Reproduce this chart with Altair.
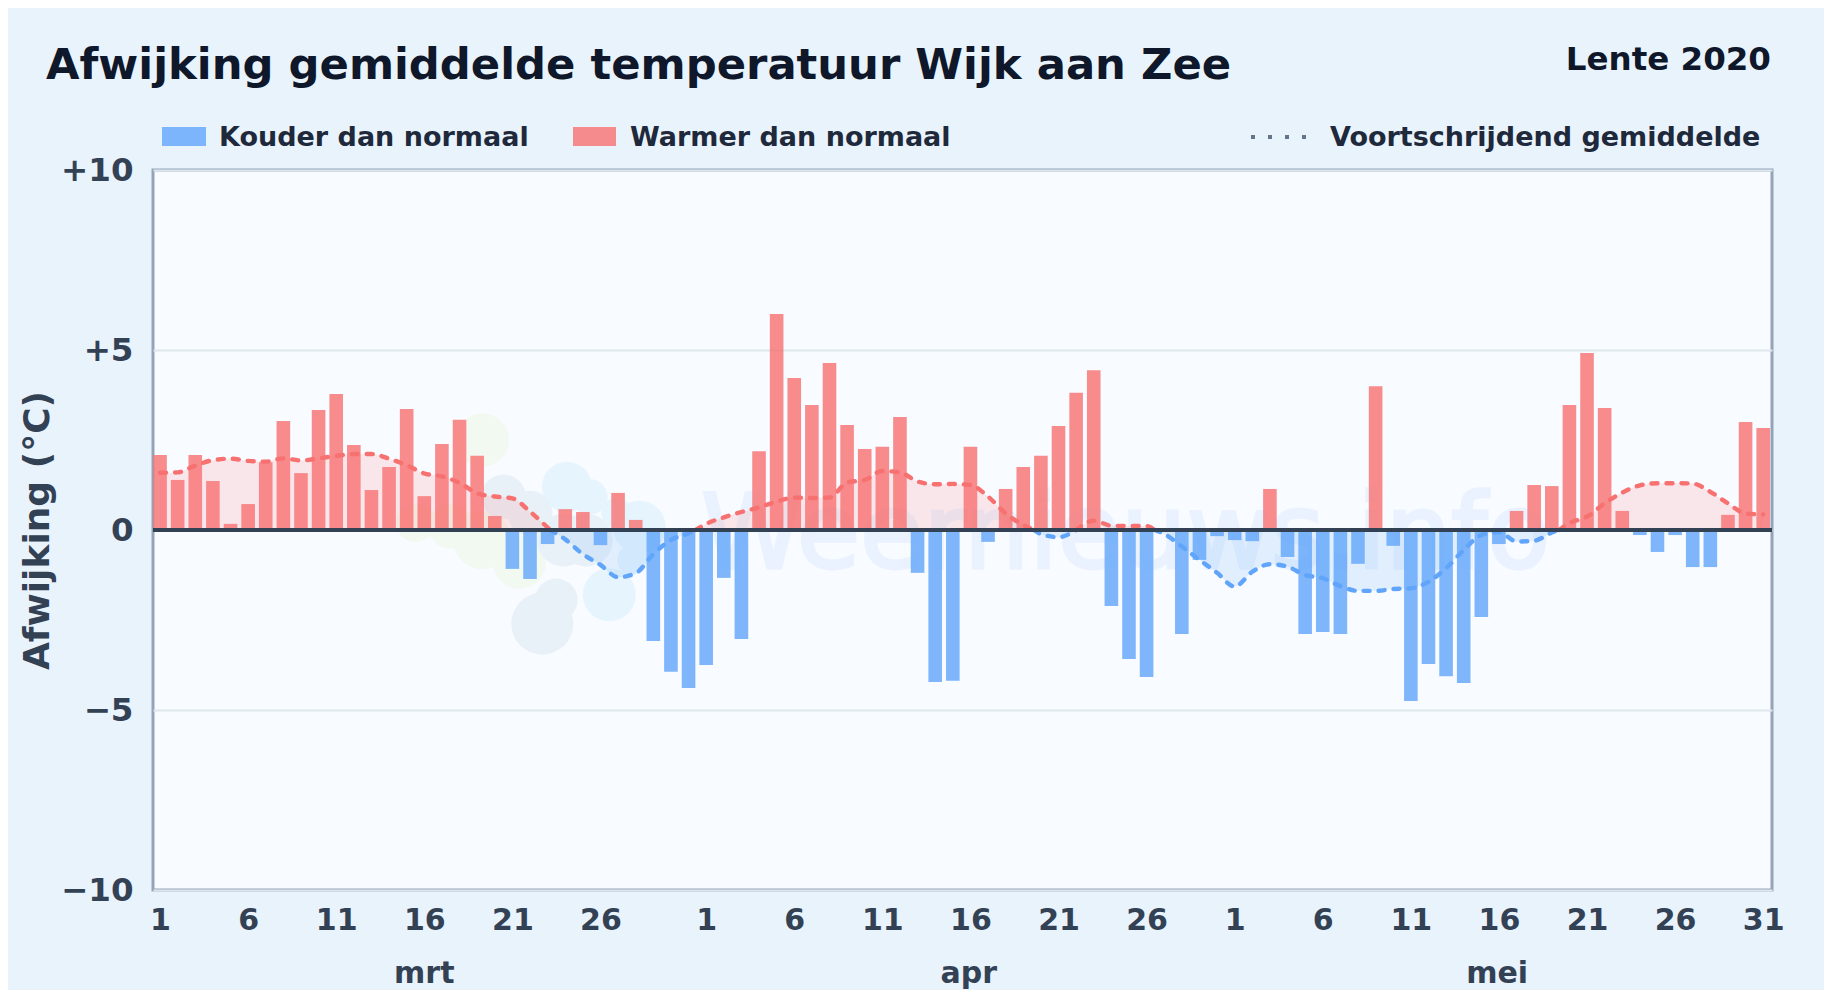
import altair as alt
import pandas as pd

days = list(range(1, 93))
anomaly = [
    2.08, 1.39, 2.08, 1.36, 0.17, 0.72, 1.88, 3.03, 1.58, 3.33, 3.78, 2.36, 1.11, 1.75, 3.36, 0.94,
    2.39, 3.06, 2.06, 0.39, -1.08, -1.36, -0.39, 0.58, 0.50, -0.42, 1.03, 0.28, -3.08, -3.94, -4.39,
    -3.75, -1.33, -3.03, 2.19, 6.00, 4.22, 3.47, 4.64, 2.92, 2.25, 2.31, 3.14, -1.19, -4.22, -4.19,
    2.31, -0.33, 1.14, 1.75, 2.06, 2.89, 3.81, 4.44, -2.11, -3.58, -4.08, 0.00, -2.89, -0.83, -0.17,
    -0.28, -0.31, 1.14, -0.75, -2.89, -2.83, -2.89, -0.94, 3.99, -0.44, -4.75, -3.72, -4.06, -4.25,
    -2.42, -0.39, 0.53, 1.25, 1.22, 3.47, 4.92, 3.39, 0.53, -0.14, -0.61, -0.14, -1.03, -1.03, 0.42,
    3.00, 2.83,
]
ma_days = [
    1, 2, 3, 4, 5, 6, 7, 8, 9, 10, 11, 12, 13, 14, 15, 16, 17, 18, 19, 20, 21, 22, 23, 23.15,
    24, 25, 26, 27, 28, 29, 30, 31, 31.4, 32, 33, 34, 35, 36, 37, 38, 39, 40, 41, 42, 43, 44, 45,
    46, 47, 48, 49, 50, 50.6, 51, 52, 53, 54, 55, 56, 57, 57.45, 58, 59, 60, 61, 62, 63, 64, 65,
    66, 67, 68, 69, 70, 71, 72, 73, 74, 75, 76, 77, 78, 79, 80, 80.4, 81, 82, 83, 84, 85, 86, 87,
    88, 89, 90, 91, 92,
]
ma_vals = [
    1.59, 1.60, 1.79, 1.94, 1.98, 1.92, 1.90, 1.99, 1.93, 1.99, 2.06, 2.11, 2.11, 1.98, 1.80, 1.57,
    1.49, 1.31, 1.02, 0.93, 0.88, 0.51, 0.07, 0.0,
    -0.26, -0.67, -0.97, -1.31, -1.20, -0.67, -0.28, -0.09, 0.0, 0.17, 0.35, 0.50, 0.63, 0.79,
    0.90, 0.89, 0.90, 1.32, 1.39, 1.64, 1.60, 1.35, 1.27, 1.28, 1.25, 0.93, 0.46, 0.14, 0.0,
    -0.11, -0.20, 0.0, 0.26, 0.12, 0.11, 0.11, 0.0, -0.11, -0.46, -0.83, -1.19, -1.57, -1.16, -0.95,
    -1.02, -1.25, -1.34, -1.56, -1.69, -1.69, -1.64, -1.62, -1.44, -1.06, -0.56, -0.14, -0.06,
    -0.32, -0.30, -0.07, 0.0, 0.19, 0.37, 0.74, 1.04, 1.24, 1.30, 1.30, 1.29, 1.06, 0.74, 0.46, 0.43,
]
x_ticks = [1, 6, 11, 16, 21, 26, 32, 37, 42, 47, 52, 57, 62, 67, 72, 77, 82, 87, 92]
y_ticks = [-10, -5, 0, 5, 10]
month_names = ["mrt", "apr", "mei"]
month_centers = [16, 46.9, 76.9]
kinds = ["Kouder dan normaal", "Warmer dan normaal"]
colors = ["#60a5fa", "#f87171"]

# faint logo behind the data
blob_x = [19.3, 19.3, 21.4, 15.5, 17.5, 24.1, 25.4, 28.2, 26.9, 26.5, 27.8, 20.5, 22.0, 23.9, 25.2, 22.7, 23.5]
blob_y = [2.5, -0.28, -0.9, 0.2, 0.1, 1.2, 0.92, 0.08, 0.47, -1.8, -0.83, 0.92, 0.47, -0.28, -0.28, -2.6, -1.94]
blob_size = [2800, 3400, 2800, 1500, 2000, 2500, 1250, 2800, 900, 2800, 900, 2000, 2000, 2800, 2800, 3850, 1800]
blob_group = ["g", "g", "g", "g", "g", "b", "b", "b", "b", "b", "b", "s", "s", "s", "s", "s", "s"]

bars = pd.DataFrame({"day": days, "value": anomaly})
bars["kind"] = [kinds[0] if v < 0 else kinds[1] for v in anomaly]

rows, seg, prev_sign = [], 0, None
for d, v in zip(ma_days, ma_vals):
    if v == 0:
        rows.append({"day": d, "value": v, "seg": seg, "kind": kinds[1] if prev_sign > 0 else kinds[0]})
        seg += 1
        prev_sign = -prev_sign
        rows.append({"day": d, "value": v, "seg": seg, "kind": kinds[1] if prev_sign > 0 else kinds[0]})
    else:
        prev_sign = 1 if v > 0 else -1
        rows.append({"day": d, "value": v, "seg": seg, "kind": kinds[1] if v > 0 else kinds[0]})
ma = pd.DataFrame(rows)

x_enc = alt.X(
    "day:Q",
    scale=alt.Scale(domain=[0.6, 92.5], nice=False, zero=False, padding=0),
    axis=alt.Axis(
        values=x_ticks, title=None, grid=False, domain=False, ticks=False,
        labelExpr="datum.value <= 31 ? datum.value : datum.value <= 61 ? datum.value - 31 : datum.value - 61",
        labelFontSize=30, labelFontWeight="bold", labelColor="#334155", labelPadding=15,
        labelFlush=False, labelOverlap=False,
    ),
)
y_enc = alt.Y(
    "value:Q",
    stack=None,
    scale=alt.Scale(domain=[-10, 10], nice=False),
    axis=alt.Axis(
        values=y_ticks, title="Afwijking (°C)", grid=True, gridColor="#dfe7ee", gridWidth=2,
        domain=False, ticks=False,
        labelExpr="datum.value > 0 ? '+' + datum.value : datum.value < 0 ? '−' + abs(datum.value) : '0'",
        labelFontSize=32.5, labelFontWeight="bold", labelColor="#334155", labelPadding=20,
        titleFontSize=36, titleFontWeight="bold", titleColor="#334155", titlePadding=4,
    ),
)
col = alt.Color("kind:N", scale=alt.Scale(domain=kinds, range=colors), legend=None)

blob_colors = alt.Color("group:N", scale=alt.Scale(domain=["g", "s", "b"], range=["#f2f9f0", "#e9f1f8", "#e6f4fe"]), legend=None)
blobs = alt.Chart(pd.DataFrame({"day": blob_x, "value": blob_y, "s": blob_size, "group": blob_group})).mark_circle(opacity=1).encode(
    x=x_enc, y=y_enc, size=alt.Size("s:Q", scale=None, legend=None), color=blob_colors
)
watermark = alt.Chart(pd.DataFrame({"day": [31.7], "value": [-1.05], "t": ["Weernieuws.info"]})).mark_text(
    align="left", baseline="alphabetic", fontSize=103, fontWeight="normal", color="#dbeafe",
    stroke="#dbeafe", strokeWidth=3, opacity=0.5,
).encode(x=x_enc, y=y_enc, text="t:N")

area = alt.Chart(ma).mark_area(interpolate="monotone", opacity=0.15).encode(
    x=x_enc, y=y_enc, y2=alt.Y2(datum=0), color=col, detail="seg:N"
)
bar = alt.Chart(bars).mark_bar(width=13.6, opacity=0.8).encode(x=x_enc, y=y_enc, color=col)
line = alt.Chart(ma).mark_line(
    interpolate="monotone", strokeWidth=4.4, strokeDash=[6, 9], strokeCap="round", opacity=1
).encode(x=x_enc, y=y_enc, color=col, detail="seg:N")
zero = alt.Chart(pd.DataFrame({"value": [0]})).mark_rule(color="#334155", strokeWidth=4).encode(y=y_enc)

months = alt.Chart(pd.DataFrame({"day": month_centers, "m": month_names})).mark_text(
    fontSize=30, fontWeight="bold", color="#334155", baseline="alphabetic", align="center"
).encode(x=x_enc, y=alt.value(813), text="m:N")


def label(txt, x, y, size, color, align="left"):
    return alt.Chart(pd.DataFrame({"t": [txt]})).mark_text(
        fontSize=size, fontWeight="bold", color=color, align=align, baseline="alphabetic"
    ).encode(x=alt.value(x), y=alt.value(y), text="t:N")


def swatch(x0, x1, color):
    return alt.Chart(pd.DataFrame({"k": [0]})).mark_rect(color=color, opacity=0.8).encode(
        x=alt.value(x0), x2=alt.value(x1), y=alt.value(-43), y2=alt.value(-24)
    )


legend = [
    swatch(9, 53, colors[0]),
    label(kinds[0], 66, -24, 27, "#1e293b"),
    swatch(420, 463, colors[1]),
    label(kinds[1], 477, -24, 27, "#1e293b"),
    alt.Chart(pd.DataFrame({"k": [0]})).mark_rule(color="#64748b", strokeWidth=4, strokeDash=[4, 13]).encode(
        x=alt.value(1098), x2=alt.value(1156), y=alt.value(-33)
    ),
    label("Voortschrijdend gemiddelde", 1177, -24, 27, "#1e293b"),
    label("Lente 2020", 1618, -100, 32.5, "#0f172a", align="right"),
    label("Afwijking gemiddelde temperatuur Wijk aan Zee", -107, -91, 43.3, "#0f172a"),
]

chart = alt.layer(blobs, watermark, area, bar, line, zero, months, *legend).resolve_scale(color="independent").properties(
    width=1619,
    height=720,
    padding={"left": 145, "top": 162, "right": 52, "bottom": 100},
    autosize=alt.AutoSizeParams(type="none"),
    background="#e9f3fc",
).configure(
    font="DejaVu Sans",
    view=alt.ViewConfig(fill="#f8fbff", stroke="#94a3b8", strokeWidth=3),
)

chart.save("out.html", embed_options={"renderer": "svg", "actions": False})
